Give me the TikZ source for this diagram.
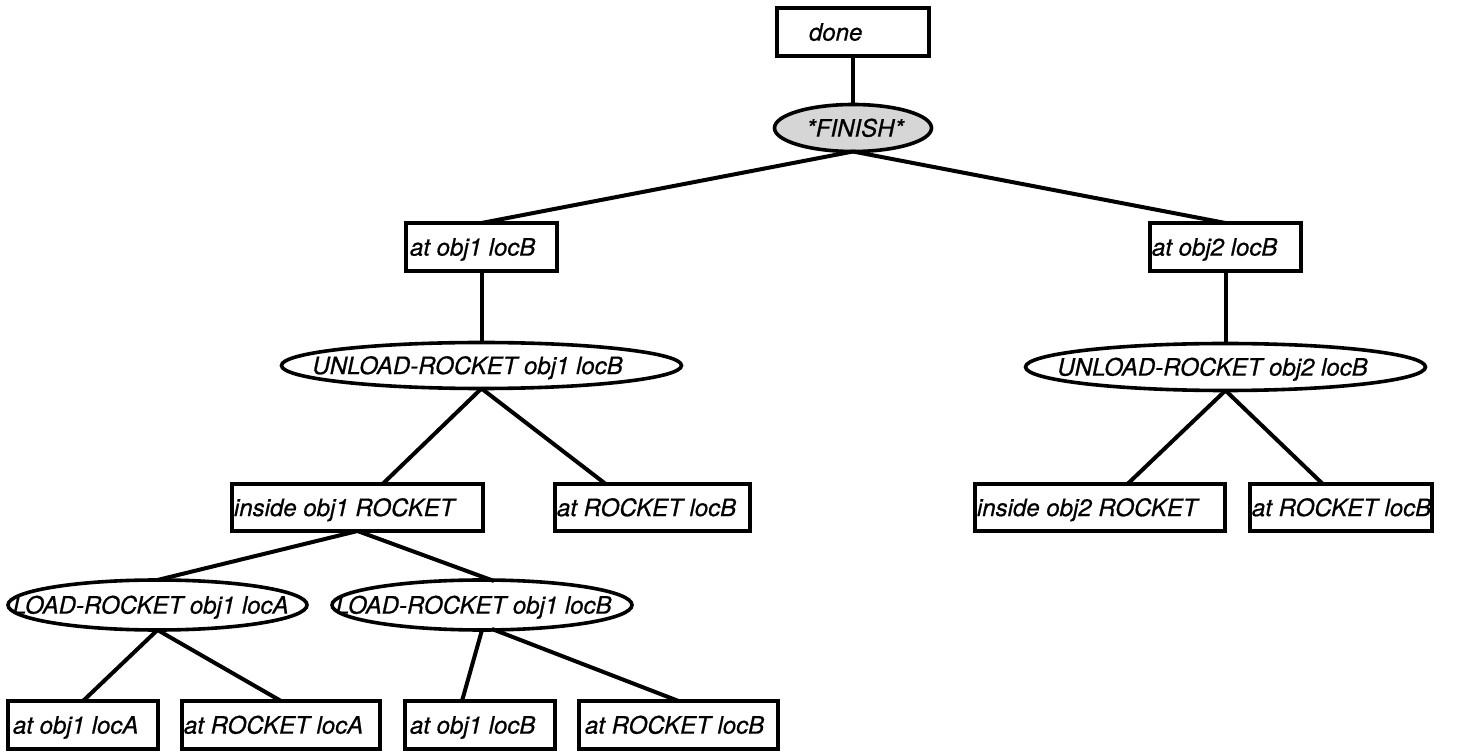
\documentclass[tikz,border=0pt]{standalone}
\usepackage{fontspec}
\newfontfamily\lblfont{TeX Gyre Heros}[ItalicFeatures={FakeBold=0.7}]
\usetikzlibrary{shapes.geometric,calc}

\begin{document}
\begin{tikzpicture}[x=0.5pt,y=-0.5pt,
  every node/.style={inner sep=0pt, outer sep=0pt},
  lbl/.style={rectangle, draw=none, fill=none, minimum width=0pt, minimum height=0pt,
    font=\lblfont\itshape\fontsize{12}{14}\selectfont, anchor=base west},
  box/.style={draw, rectangle, line width=1.7pt, fill=white},
  oval/.style={draw, ellipse, line width=1.8pt, fill=white},
  goal/.style={oval, fill=black!16},
  dim/.style 2 args={minimum width=#1*0.5pt, minimum height=#2*0.5pt},
  % label drawn inside the node outline, clipped to it, #2 = left offset in px
  txt/.style n args={3}{path picture={\node[lbl] (#1) at ([xshift=#2*0.5pt,yshift=-4.3pt]path picture bounding box.west) {#3};}},
  link/.style={line width=2pt},
]
\useasboundingbox (0,0) rectangle (1457,753);

% top goal and finishing step
\node[box, dim={152}{48}, txt={tdone}{32}{done}] (done) at (853,32) {};
\node[goal, dim={157}{47}, txt={tfin}{32}{*FINISH*}] (fin) at (853,128) {};

% goals of the finishing step
\node[box, dim={151}{48}, txt={to1}{4}{at obj1 locB}] (o1) at (481.5,247) {};
\node[box, dim={151}{48}, txt={to2}{2}{at obj2 locB}] (o2) at (1225.5,247) {};

% unload steps
\node[oval, dim={400}{46}, txt={tu1}{31}{UNLOAD-ROCKET obj1 locB}] (u1) at (481.5,365.5) {};
\node[oval, dim={400}{47}, txt={tu2}{32}{UNLOAD-ROCKET obj2 locB}] (u2) at (1225.5,367) {};

% preconditions of the unload steps
\node[box, dim={251}{47}, txt={ti1}{2}{inside obj1 ROCKET}] (i1) at (357.5,507.5) {};
\node[box, dim={195}{47}, txt={tr1}{2}{at ROCKET locB}] (r1) at (652.5,507.5) {};
\node[box, dim={250}{47}, txt={ti2}{2}{inside obj2 ROCKET}] (i2) at (1100,507.5) {};
\node[box, dim={182}{47}, txt={tr2}{2}{at ROCKET locB}] (r2) at (1341,507.5) {};

% load steps
\node[oval, dim={299}{50}, txt={tla}{5}{LOAD-ROCKET obj1 locA}] (la) at (157.5,605) {};
\node[oval, dim={300}{50}, txt={tlb}{4}{LOAD-ROCKET obj1 locB}] (lb) at (482,605) {};

% preconditions of the load steps
\node[box, dim={150}{48}, txt={tb1}{5}{at obj1 locA}] (b1) at (83,725) {};
\node[box, dim={198}{48}, txt={tb2}{2}{at ROCKET locA}] (b2) at (281,725) {};
\node[box, dim={150}{48}, txt={tb3}{5}{at obj1 locB}] (b3) at (480,725) {};
\node[box, dim={199}{48}, txt={tb4}{6}{at ROCKET locB}] (b4) at (678.5,725) {};

% links
\draw[link] (done.south) -- (fin.north);
\draw[link] (fin.south) -- (o1.north);
\draw[link] (fin.south) -- (o2.north);
\draw[link] (o1.south) -- (u1.north);
\draw[link] (o2.south) -- (u2.north);
\draw[link] (u1.south) -- ($(i1.north west)!0.6!(i1.north east)$);
\draw[link] (u1.south) -- ($(r1.north west)!0.26!(r1.north east)$);
\draw[link] (u2.south) -- ($(i2.north west)!0.61!(i2.north east)$);
\draw[link] (u2.south) -- ($(r2.north west)!0.4!(r2.north east)$);
\draw[link] (i1.south) -- (la.north);
\draw[link] (i1.south) -- ($(lb.north)+(12,1)$);
\draw[link] (la.south) -- (b1.north);
\draw[link] (la.south) -- (b2.north);
\draw[link] (lb.south) -- ($(b3.north west)!0.38!(b3.north east)$);
\draw[link] ($(lb.south)+(10,-1)$) -- (b4.north);
\end{tikzpicture}
\end{document}
